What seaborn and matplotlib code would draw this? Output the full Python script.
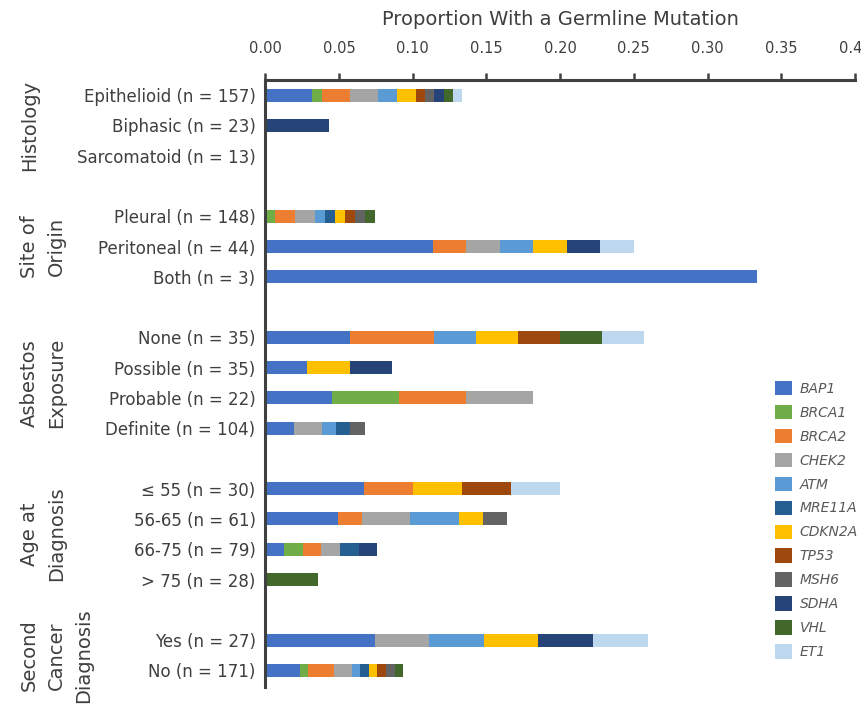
import matplotlib
matplotlib.use("Agg")
import matplotlib.pyplot as plt
from matplotlib.patches import Patch
from matplotlib.transforms import blended_transform_factory
import numpy as np
import pandas as pd
import seaborn as sns

# Genes in stacking / legend order
genes = ["BAP1", "BRCA1", "BRCA2", "CHEK2", "ATM", "MRE11A",
         "CDKN2A", "TP53", "MSH6", "SDHA", "VHL", "ET1"]
gene_colors = ["#4472C4", "#70AD47", "#ED7D31", "#A5A5A5", "#5B9BD5", "#255E91",
               "#FFC000", "#9E480E", "#636363", "#264478", "#43682B", "#BDD7EE"]

# Subgroups (row labels), their sizes and their slots on the y axis
row_labels = ["Epithelioid (n = 157)", "Biphasic (n = 23)", "Sarcomatoid (n = 13)",
              "Pleural (n = 148)", "Peritoneal (n = 44)", "Both (n = 3)",
              "None (n = 35)", "Possible (n = 35)", "Probable (n = 22)", "Definite (n = 104)",
              "\u2264 55 (n = 30)", "56-65 (n = 61)", "66-75 (n = 79)", "> 75 (n = 28)",
              "Yes (n = 27)", "No (n = 171)"]
row_n = np.array([157, 23, 13, 148, 44, 3, 35, 35, 22, 104, 30, 61, 79, 28, 27, 171])
row_slot = np.array([0, 1, 2, 4, 5, 6, 8, 9, 10, 11, 13, 14, 15, 16, 18, 19])

# Germline carriers of each gene per subgroup (same row order as row_labels)
bap1   = [5, 0, 0, 0, 5, 1, 2, 1, 1, 2, 2, 3, 1, 0, 2, 4]
brca1  = [1, 0, 0, 1, 0, 0, 0, 0, 1, 0, 0, 0, 1, 0, 0, 1]
brca2  = [3, 0, 0, 2, 1, 0, 2, 0, 1, 0, 1, 1, 1, 0, 0, 3]
chek2  = [3, 0, 0, 2, 1, 0, 0, 0, 1, 2, 0, 2, 1, 0, 1, 2]
atm    = [2, 0, 0, 1, 1, 0, 1, 0, 0, 1, 0, 2, 0, 0, 1, 1]
mre11a = [0, 0, 0, 1, 0, 0, 0, 0, 0, 1, 0, 0, 1, 0, 0, 1]
cdkn2a = [2, 0, 0, 1, 1, 0, 1, 1, 0, 0, 1, 1, 0, 0, 1, 1]
tp53   = [1, 0, 0, 1, 0, 0, 1, 0, 0, 0, 1, 0, 0, 0, 0, 1]
msh6   = [1, 0, 0, 1, 0, 0, 0, 0, 0, 1, 0, 1, 0, 0, 0, 1]
sdha   = [1, 1, 0, 0, 1, 0, 0, 1, 0, 0, 0, 0, 1, 0, 1, 0]
vhl    = [1, 0, 0, 1, 0, 0, 1, 0, 0, 0, 0, 0, 0, 1, 0, 1]
et1    = [1, 0, 0, 0, 1, 0, 1, 0, 0, 0, 1, 0, 0, 0, 1, 0]
carriers = [bap1, brca1, brca2, chek2, atm, mre11a, cdkn2a, tp53, msh6, sdha, vhl, et1]

group_titles = ["Histology", "Site of\nOrigin", "Asbestos\nExposure",
                "Age at\nDiagnosis", "Second\nCancer\nDiagnosis"]
group_centers = [1, 5, 9.5, 14.5, 18.5]
xticks = [0.00, 0.05, 0.10, 0.15, 0.20, 0.25, 0.30, 0.35, 0.40]

sns.set_theme(style="white")
plt.rcParams["font.family"] = ["DejaVu Sans"]
text_color = "#3f3f3f"
axis_color = "#404040"

W, H = 861, 705
fig = plt.figure(figsize=(W / 100, H / 100), dpi=100)
ax = fig.add_axes([265.3 / W, 1 - 687 / H, (855 - 265.3) / W, (687 - 80) / H])

# Cumulative proportions per gene, then draw from the outermost layer inward
cum = np.zeros(len(row_slot))
layers = []
for counts in carriers:
    cum = cum + np.asarray(counts) / row_n
    layers.append(cum.copy())

for gene, color, total in reversed(list(zip(genes, gene_colors, layers))):
    frame = pd.DataFrame({"proportion": total, "slot": row_slot})
    sns.barplot(data=frame, x="proportion", y="slot", orient="y", native_scale=True,
                color=color, saturation=1, width=0.43, linewidth=0,
                edgecolor="none", errorbar=None, ax=ax)

ax.set_xlim(0, 0.40)
ax.set_ylim(19.55, -0.5)
ax.xaxis.tick_top()
ax.xaxis.set_label_position("top")
ax.set_xticks(xticks)
ax.set_xticklabels([f"{t:.2f}" for t in xticks])
ax.set_yticks(row_slot)
ax.set_yticklabels(row_labels)
ax.set_ylabel("")
ax.set_xlabel("Proportion With a Germline Mutation", fontsize=14,
              color=text_color, labelpad=12)
ax.tick_params(axis="x", which="both", top=True, bottom=False, direction="out",
               length=5, width=1.8, color=axis_color, pad=12,
               labelsize=10.5, labelcolor=text_color)
ax.tick_params(axis="y", which="both", left=False, length=0, pad=7,
               labelsize=12, labelcolor=text_color)
for side in ("right", "bottom"):
    ax.spines[side].set_visible(False)
for side in ("top", "left"):
    ax.spines[side].set_visible(True)
    ax.spines[side].set_linewidth(2.2)
    ax.spines[side].set_color(axis_color)

# Category group titles along the left margin
trans = blended_transform_factory(fig.transFigure, ax.transData)
for title, center in zip(group_titles, group_centers):
    fig.text(20 / W, center, title, transform=trans, rotation=90,
             ha="left", va="center", multialignment="center",
             fontsize=14, linespacing=1.55, color=text_color)

handles = [Patch(facecolor=c, edgecolor="none", label=g)
           for g, c in zip(genes, gene_colors)]
fig.legend(handles=handles, loc="upper left", bbox_to_anchor=(775 / W, 1 - 381 / H),
           frameon=False, borderpad=0, borderaxespad=0,
           handlelength=1.22, handleheight=1.22, handletextpad=0.55,
           labelspacing=0.65, prop={"style": "italic", "size": 10},
           labelcolor="#595959")

fig.savefig("out.png", dpi=100)
